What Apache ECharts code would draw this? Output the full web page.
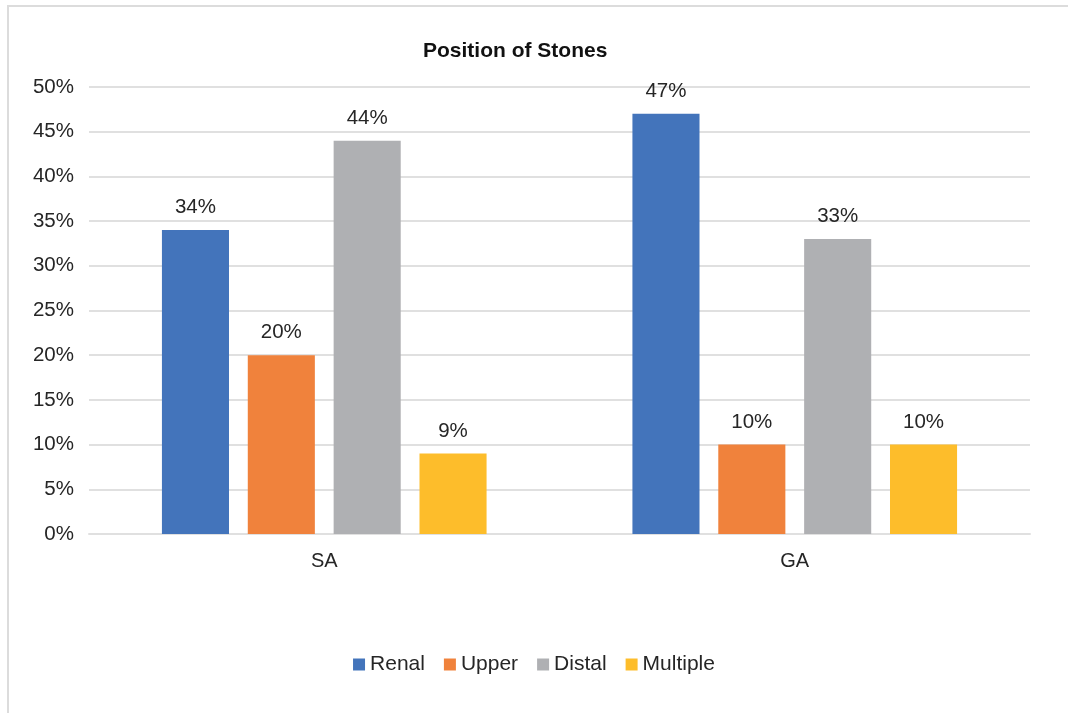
<!DOCTYPE html>
<html>
<head>
<meta charset="utf-8">
<script src="https://cdn.jsdelivr.net/npm/echarts@6/dist/echarts.min.js"></script>
<style>
  html, body { margin: 0; padding: 0; background: #fff; }
  #chart { width: 1068px; height: 713px; }
</style>
</head>
<body>
<div id="chart"></div>
<script>
const groups = ['SA', 'GA']
const seriesNames = ['Renal', 'Upper', 'Distal', 'Multiple']
const renal = [34, 47]
const upper = [20, 10]
const distal = [44, 33]
const multiple = [9, 10]
const colors = ['#4374bb', '#f0823c', '#afb0b3', '#fdbd2b']

const values = [renal, upper, distal, multiple]
const font = 'Liberation Sans, Arial, sans-serif'

const chart = echarts.init(document.getElementById('chart'))
chart.setOption({
  animation: false,
  backgroundColor: '#fff',
  title: {
    text: 'Position of Stones',
    left: 418,
    top: 36,
    textStyle: { fontFamily: font, fontSize: 21, fontWeight: 'bold', color: '#111' }
  },
  // outer chart border, runs off the right and bottom edge
  graphic: [{
    type: 'rect',
    shape: { x: 8, y: 6, width: 1100, height: 800 },
    style: { fill: 'none', stroke: '#dcdcdc', lineWidth: 2 },
    silent: true
  }],
  grid: { left: 89, right: 38, top: 87, bottom: 179, containLabel: false },
  legend: {
    bottom: 33,
    left: 'center',
    itemWidth: 12,
    itemHeight: 12,
    itemGap: 19,
    icon: 'rect',
    textStyle: { fontFamily: font, fontSize: 21, color: '#262626' },
    data: seriesNames
  },
  xAxis: {
    type: 'category',
    data: groups,
    axisTick: { show: false },
    axisLine: { lineStyle: { color: '#e0e0e0', width: 2 } },
    axisLabel: { fontFamily: font, fontSize: 20, color: '#262626', margin: 17 }
  },
  yAxis: {
    type: 'value',
    min: 0,
    max: 50,
    interval: 5,
    axisLabel: { formatter: '{value}%', fontFamily: font, fontSize: 20.5, color: '#262626', margin: 15 },
    splitLine: { lineStyle: { color: '#e0e0e0', width: 2 } },
    axisLine: { show: false },
    axisTick: { show: false }
  },
  series: seriesNames.map((name, i) => ({
    name,
    type: 'bar',
    data: values[i],
    itemStyle: { color: colors[i] },
    barGap: '28%',
    barCategoryGap: '31%',
    label: {
      show: true,
      position: 'top',
      distance: 12,
      formatter: '{c}%',
      fontFamily: font,
      fontSize: 20.5,
      color: '#262626'
    }
  }))
})
</script>
</body>
</html>
